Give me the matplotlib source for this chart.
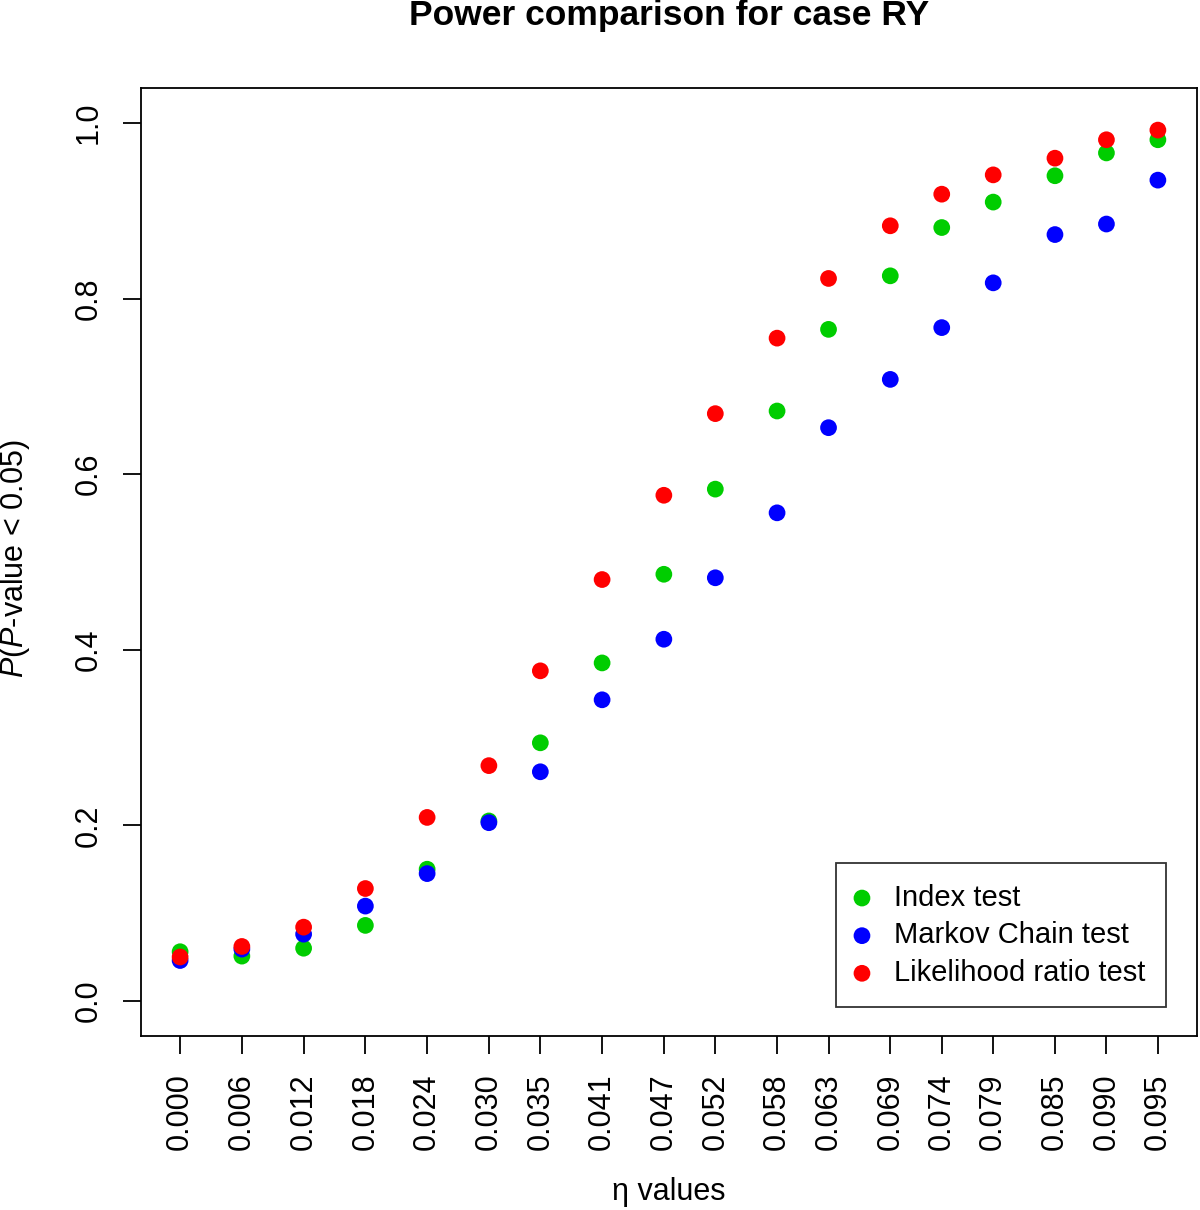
import matplotlib
matplotlib.use("Agg")
import matplotlib.pyplot as plt

plt.rcParams['font.family'] = ['Liberation Sans', 'DejaVu Sans']
plt.rcParams['mathtext.fontset'] = 'custom'
plt.rcParams['mathtext.rm'] = 'Liberation Sans'
plt.rcParams['mathtext.it'] = 'Liberation Sans:italic'

# eta values (x) as labelled on the axis
eta = [0.000, 0.006, 0.012, 0.018, 0.024, 0.030, 0.035, 0.041, 0.047,
       0.052, 0.058, 0.063, 0.069, 0.074, 0.079, 0.085, 0.090, 0.095]
eta_labels = ["%.3f" % e for e in eta]

index_test = [0.056, 0.051, 0.060, 0.086, 0.150, 0.205, 0.294, 0.385, 0.486,
              0.583, 0.672, 0.765, 0.826, 0.881, 0.910, 0.940, 0.966, 0.981]
markov_test = [0.046, 0.059, 0.076, 0.108, 0.145, 0.203, 0.261, 0.343, 0.412,
               0.482, 0.556, 0.653, 0.708, 0.767, 0.818, 0.873, 0.885, 0.935]
lr_test = [0.050, 0.062, 0.084, 0.128, 0.209, 0.268, 0.376, 0.480, 0.576,
           0.669, 0.755, 0.823, 0.883, 0.919, 0.941, 0.960, 0.981, 0.992]

series = [
    ("Index test", index_test, "#00cd00"),
    ("Markov Chain test", markov_test, "#0000ff"),
    ("Likelihood ratio test", lr_test, "#ff0000"),
]

fig = plt.figure(figsize=(12, 12.1), dpi=100)
ax = fig.add_axes([0.1175, 0.1438, 0.88, 0.7835])

for name, vals, col in series:
    ax.scatter(eta, vals, s=145, color=col, edgecolors='none', label=name, zorder=3)

ax.set_xlim(-0.0038, 0.0988)
ax.set_ylim(-0.04, 1.04)

ax.set_xticks(eta)
ax.set_xticklabels(eta_labels, rotation=90)
ax.set_yticks([0.0, 0.2, 0.4, 0.6, 0.8, 1.0])
ax.set_yticklabels(["0.0", "0.2", "0.4", "0.6", "0.8", "1.0"], rotation=90, va='center')
ax.tick_params(direction='out', length=13, width=1.3, labelsize=22, pad=14, colors='black')

for sp in ax.spines.values():
    sp.set_linewidth(1.3)

fig.text(0.558, 1 - 16 / 1210, "Power comparison for case RY", fontsize=25.5,
         fontweight='bold', ha='center', va='center')
ax.set_xlabel("η values", fontsize=22, va='center')
ax.xaxis.set_label_coords(0.5, -0.1646)
ax.set_ylabel(r"$\it{P}$($\it{P}$-value < 0.05)", fontsize=22, va='center')
ax.yaxis.set_label_coords(-0.119, 0.503)

leg = ax.legend(loc='lower right', bbox_to_anchor=(0.9705, 0.0302), fontsize=21,
                frameon=True, fancybox=False, edgecolor='black', borderpad=0.7,
                handletextpad=0.9, labelspacing=0.33, handlelength=0.4,
                borderaxespad=0)
leg.get_frame().set_linewidth(1.3)

fig.savefig("out.png", dpi=100)
